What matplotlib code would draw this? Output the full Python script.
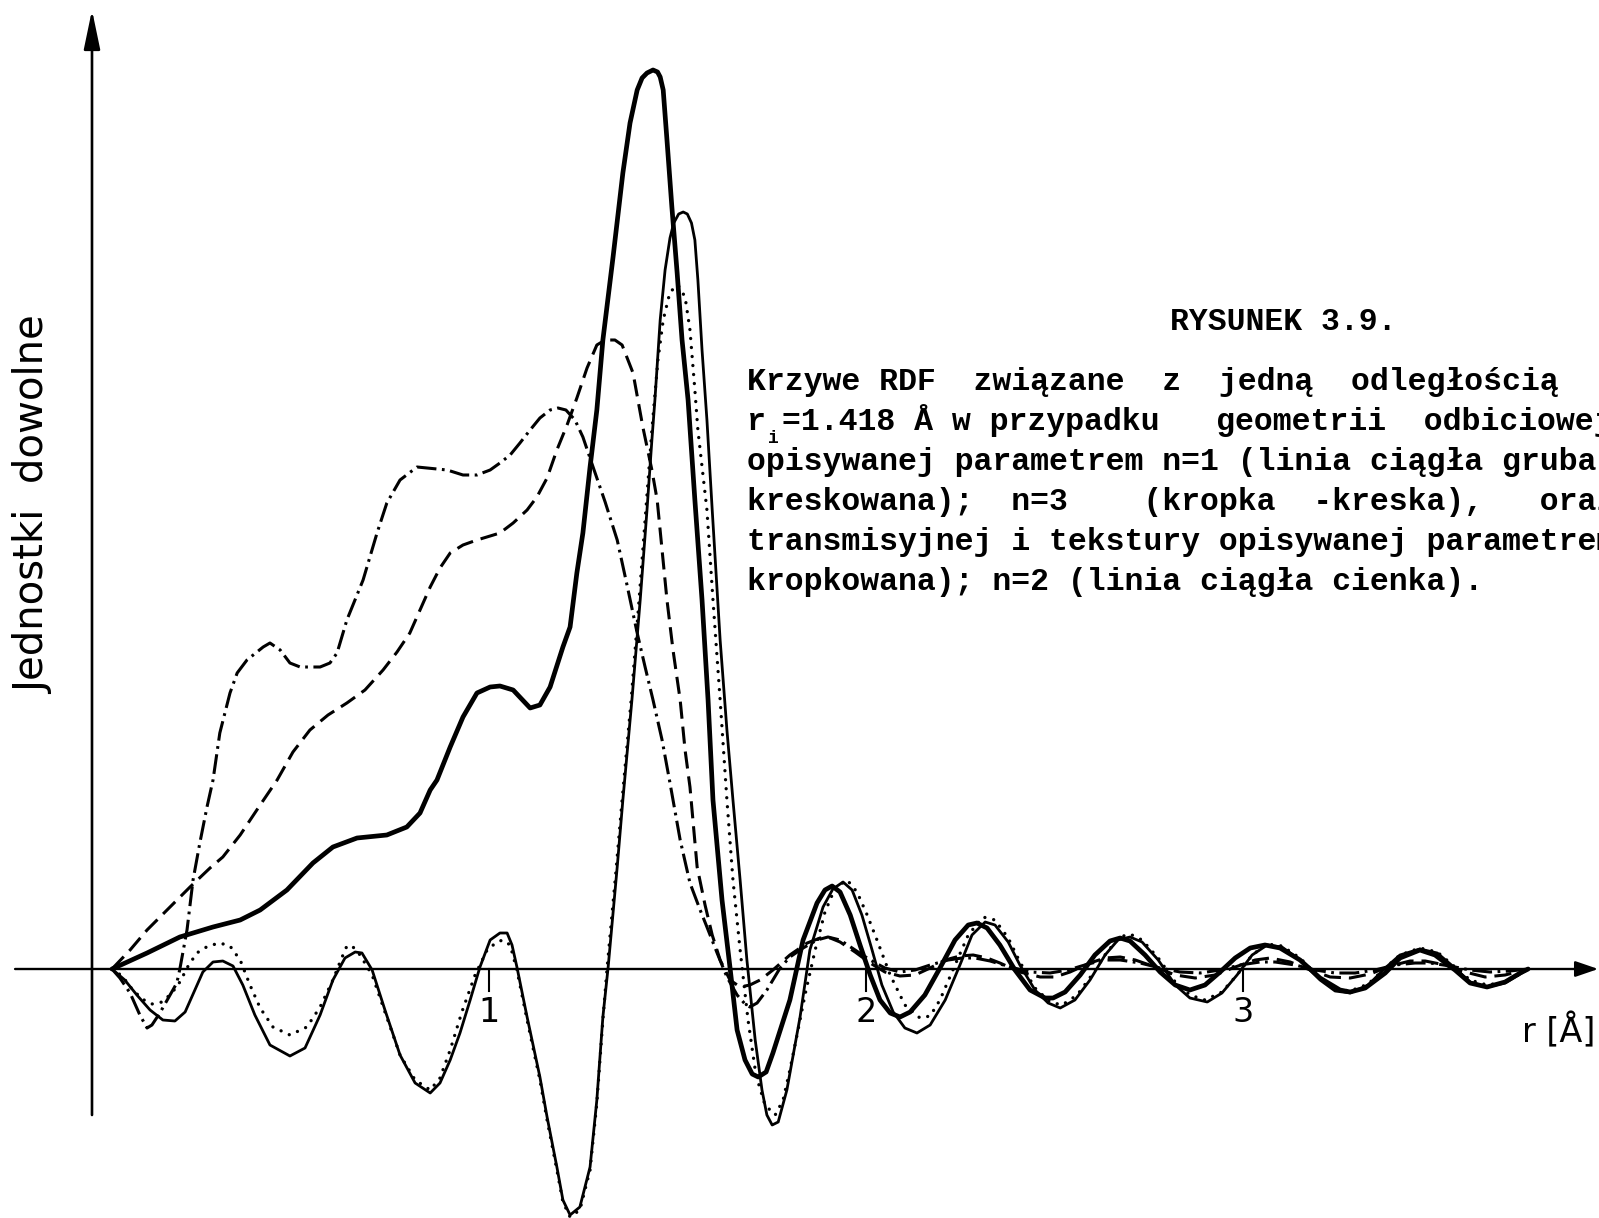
#!/usr/bin/env python
"""Rysunek 3.9: RDF curves tied to one distance r_i = 1.418 A."""

from __future__ import annotations

import matplotlib

matplotlib.use("Agg")
import matplotlib.pyplot as plt


FIG_W_PX = 1599
FIG_H_PX = 1218
DPI = 100

R_RANGE = (-0.297, 3.944)
V_RANGE = (-2.49, 9.69)

# reflection geometry, n=1 (thick solid line)
REFL_N1 = [
    (0.0, 0.0), (0.093, 0.16), (0.180, 0.32), (0.268, 0.42), (0.340, 0.49),
    (0.393, 0.59), (0.464, 0.79), (0.533, 1.06), (0.586, 1.22), (0.650, 1.31),
    (0.729, 1.34), (0.782, 1.42), (0.817, 1.56), (0.844, 1.79), (0.862, 1.89),
    (0.897, 2.22), (0.931, 2.52), (0.968, 2.76), (1.003, 2.82), (1.029, 2.83),
    (1.064, 2.79), (1.109, 2.61), (1.135, 2.64), (1.162, 2.82), (1.196, 3.22),
    (1.215, 3.42), (1.233, 3.96), (1.249, 4.36), (1.268, 5.02), (1.286, 5.59),
    (1.302, 6.29), (1.329, 7.12), (1.355, 7.96), (1.374, 8.46), (1.393, 8.79),
    (1.406, 8.91), (1.419, 8.96), (1.435, 8.99), (1.447, 8.97), (1.454, 8.92),
    (1.462, 8.79), (1.472, 8.29), (1.485, 7.62), (1.499, 6.96), (1.512, 6.29),
    (1.528, 5.69), (1.546, 4.69), (1.565, 3.69), (1.581, 2.69), (1.594, 1.69),
    (1.618, 0.69), (1.639, 0.02), (1.658, -0.61), (1.679, -0.91), (1.698, -1.05),
    (1.714, -1.08), (1.735, -1.03), (1.753, -0.84), (1.798, -0.31), (1.833, 0.29),
    (1.870, 0.66), (1.891, 0.79), (1.910, 0.83), (1.931, 0.77), (1.958, 0.54),
    (1.984, 0.24), (2.011, -0.06), (2.037, -0.31), (2.064, -0.44), (2.090, -0.48),
    (2.117, -0.43), (2.156, -0.26), (2.196, 0.01), (2.236, 0.29), (2.271, 0.44),
    (2.294, 0.46), (2.321, 0.41), (2.355, 0.24), (2.395, -0.01), (2.435, -0.21),
    (2.475, -0.29), (2.496, -0.29), (2.528, -0.23), (2.568, -0.06), (2.607, 0.14),
    (2.647, 0.28), (2.674, 0.31), (2.700, 0.28), (2.740, 0.14), (2.780, -0.03),
    (2.820, -0.16), (2.859, -0.21), (2.899, -0.16), (2.939, -0.03), (2.979, 0.11),
    (3.019, 0.21), (3.058, 0.24), (3.098, 0.21), (3.151, 0.09), (3.204, -0.09),
    (3.257, -0.21), (3.284, -0.23), (3.324, -0.19), (3.377, -0.04), (3.416, 0.11),
    (3.469, 0.19), (3.509, 0.14), (3.562, -0.01), (3.602, -0.14), (3.647, -0.18),
    (3.695, -0.13), (3.735, -0.04), (3.756, 0.0),
]

# reflection geometry, n=2 (dashed line)
REFL_N2 = [
    (0.0, 0.0), (0.048, 0.19), (0.093, 0.39), (0.146, 0.59), (0.207, 0.82),
    (0.260, 1.01), (0.294, 1.12), (0.340, 1.34), (0.393, 1.64), (0.438, 1.89),
    (0.480, 2.17), (0.525, 2.39), (0.573, 2.54), (0.623, 2.66), (0.671, 2.79),
    (0.719, 2.99), (0.756, 3.17), (0.790, 3.36), (0.817, 3.59), (0.844, 3.82),
    (0.870, 4.01), (0.897, 4.16), (0.931, 4.24), (0.968, 4.29), (1.003, 4.33),
    (1.029, 4.36), (1.064, 4.46), (1.101, 4.59), (1.127, 4.72), (1.154, 4.91),
    (1.180, 5.19), (1.207, 5.44), (1.233, 5.71), (1.260, 6.01), (1.286, 6.24),
    (1.308, 6.29), (1.334, 6.29), (1.353, 6.24), (1.382, 5.96), (1.408, 5.42),
    (1.432, 4.99), (1.446, 4.69), (1.459, 4.19), (1.472, 3.69), (1.488, 3.19),
    (1.507, 2.69), (1.520, 2.19), (1.533, 1.82), (1.552, 1.02), (1.573, 0.64),
    (1.592, 0.34), (1.613, 0.09), (1.639, -0.11), (1.666, -0.18), (1.692, -0.16),
    (1.719, -0.11), (1.753, -0.01), (1.798, 0.14), (1.844, 0.26), (1.878, 0.31),
    (1.905, 0.31), (1.931, 0.27), (1.971, 0.17), (2.011, 0.06), (2.050, -0.03),
    (2.090, -0.07), (2.130, -0.06), (2.170, 0.01), (2.210, 0.09), (2.249, 0.13),
    (2.284, 0.14), (2.321, 0.11), (2.355, 0.06), (2.408, -0.03), (2.462, -0.08),
    (2.501, -0.08), (2.541, -0.03), (2.594, 0.06), (2.634, 0.11), (2.674, 0.12),
    (2.714, 0.09), (2.767, 0.02), (2.820, -0.06), (2.873, -0.09), (2.926, -0.06),
    (2.979, 0.02), (3.032, 0.09), (3.072, 0.11), (3.125, 0.07), (3.178, -0.01),
    (3.231, -0.08), (3.284, -0.09), (3.337, -0.05), (3.390, 0.03), (3.443, 0.08),
    (3.483, 0.08), (3.536, 0.04), (3.589, -0.03), (3.642, -0.08), (3.695, -0.06),
    (3.756, 0.0),
]

# reflection geometry, n=3 (dot-dash line)
REFL_N3 = [
    (0.0, 0.0), (0.021, -0.09), (0.048, -0.24), (0.074, -0.46), (0.093, -0.59),
    (0.106, -0.56), (0.127, -0.44), (0.154, -0.26), (0.172, -0.14), (0.180, 0.0),
    (0.199, 0.39), (0.215, 0.89), (0.233, 1.26), (0.252, 1.62), (0.268, 1.89),
    (0.286, 2.36), (0.313, 2.76), (0.332, 2.96), (0.358, 3.09), (0.401, 3.22),
    (0.419, 3.26), (0.446, 3.19), (0.472, 3.06), (0.499, 3.02), (0.552, 3.02),
    (0.578, 3.06), (0.597, 3.16), (0.623, 3.49), (0.666, 3.89), (0.703, 4.36),
    (0.729, 4.66), (0.764, 4.89), (0.809, 5.02), (0.889, 4.99), (0.931, 4.94),
    (0.968, 4.94), (1.003, 4.99), (1.029, 5.06), (1.056, 5.14), (1.082, 5.26),
    (1.109, 5.39), (1.135, 5.51), (1.162, 5.59), (1.183, 5.61), (1.204, 5.59),
    (1.228, 5.49), (1.249, 5.32), (1.276, 5.02), (1.308, 4.67), (1.340, 4.29),
    (1.366, 3.84), (1.393, 3.36), (1.414, 3.02), (1.435, 2.69), (1.459, 2.29),
    (1.480, 1.86), (1.507, 1.29), (1.533, 0.86), (1.560, 0.59), (1.578, 0.42),
    (1.605, 0.16), (1.631, -0.08), (1.658, -0.26), (1.679, -0.35), (1.692, -0.38),
    (1.711, -0.34), (1.737, -0.21), (1.772, 0.01), (1.798, 0.12), (1.833, 0.21),
    (1.870, 0.29), (1.899, 0.32), (1.931, 0.29), (1.971, 0.19), (2.011, 0.09),
    (2.050, 0.01), (2.090, -0.03), (2.130, -0.01), (2.170, 0.04), (2.218, 0.09),
    (2.255, 0.11), (2.289, 0.11), (2.329, 0.08), (2.382, 0.02), (2.435, -0.03),
    (2.488, -0.04), (2.536, -0.01), (2.589, 0.05), (2.634, 0.09), (2.674, 0.09),
    (2.727, 0.06), (2.780, 0.01), (2.833, -0.03), (2.886, -0.04), (2.939, -0.01),
    (2.992, 0.04), (3.045, 0.07), (3.085, 0.07), (3.138, 0.04), (3.191, -0.01),
    (3.244, -0.04), (3.297, -0.04), (3.350, -0.01), (3.403, 0.04), (3.456, 0.06),
    (3.496, 0.06), (3.549, 0.03), (3.602, -0.01), (3.655, -0.03), (3.708, -0.02),
    (3.756, 0.0),
]

# transmission geometry with texture (dotted line)
TRANS_DOTTED = [
    (0.0, 0.0), (0.027, -0.07), (0.053, -0.20), (0.080, -0.30), (0.106, -0.35),
    (0.133, -0.33), (0.159, -0.24), (0.180, -0.13), (0.202, 0.03), (0.225, 0.16),
    (0.255, 0.23), (0.286, 0.26), (0.313, 0.23), (0.340, 0.09), (0.366, -0.16),
    (0.393, -0.39), (0.427, -0.58), (0.472, -0.66), (0.517, -0.58), (0.552, -0.38),
    (0.586, -0.11), (0.607, 0.09), (0.623, 0.23), (0.637, 0.23), (0.658, 0.14),
    (0.690, -0.06), (0.724, -0.43), (0.764, -0.86), (0.804, -1.11), (0.844, -1.21),
    (0.870, -1.09), (0.897, -0.81), (0.928, -0.43), (0.963, -0.06), (0.995, 0.19),
    (1.021, 0.27), (1.037, 0.29), (1.056, 0.24), (1.074, -0.01), (1.101, -0.51),
    (1.135, -1.11), (1.154, -1.51), (1.180, -2.01), (1.196, -2.33), (1.215, -2.48),
    (1.241, -2.41), (1.268, -2.01), (1.286, -1.34), (1.302, -0.51), (1.313, 0.0),
    (1.337, 0.99), (1.353, 1.69), (1.377, 2.69), (1.398, 3.69), (1.416, 4.59),
    (1.432, 5.39), (1.448, 6.09), (1.462, 6.49), (1.480, 6.77), (1.501, 6.84),
    (1.520, 6.72), (1.533, 6.39), (1.546, 5.79), (1.554, 5.39), (1.578, 4.59),
    (1.594, 3.69), (1.613, 2.69), (1.631, 1.69), (1.647, 0.89), (1.666, 0.19),
    (1.687, -0.51), (1.708, -1.06), (1.732, -1.36), (1.759, -1.46), (1.780, -1.31),
    (1.798, -1.01), (1.817, -0.66), (1.838, -0.26), (1.865, 0.19), (1.891, 0.57),
    (1.918, 0.81), (1.950, 0.89), (1.976, 0.77), (2.003, 0.54), (2.029, 0.29),
    (2.064, -0.06), (2.103, -0.36), (2.143, -0.49), (2.170, -0.47), (2.196, -0.31),
    (2.236, 0.04), (2.271, 0.34), (2.310, 0.52), (2.342, 0.49), (2.377, 0.31),
    (2.408, 0.07), (2.448, -0.19), (2.488, -0.33), (2.520, -0.36), (2.560, -0.26),
    (2.599, -0.06), (2.639, 0.17), (2.674, 0.32), (2.700, 0.35), (2.732, 0.29),
    (2.775, 0.11), (2.820, -0.13), (2.859, -0.26), (2.899, -0.31), (2.944, -0.23),
    (2.984, -0.06), (3.024, 0.14), (3.064, 0.25), (3.103, 0.23), (3.151, 0.11),
    (3.204, -0.09), (3.244, -0.20), (3.284, -0.22), (3.332, -0.15), (3.377, 0.01),
    (3.416, 0.14), (3.469, 0.21), (3.515, 0.17), (3.562, 0.02), (3.602, -0.11),
    (3.647, -0.16), (3.695, -0.13), (3.735, -0.05), (3.756, 0.0),
]

# transmission geometry with texture, n=2 (thin solid line)
TRANS_N2 = [
    (0.0, 0.0), (0.034, -0.11), (0.066, -0.26), (0.101, -0.41), (0.135, -0.51),
    (0.167, -0.52), (0.194, -0.43), (0.220, -0.21), (0.241, -0.03), (0.268, 0.07),
    (0.294, 0.08), (0.321, 0.03), (0.347, -0.16), (0.379, -0.46), (0.419, -0.76),
    (0.472, -0.87), (0.512, -0.79), (0.552, -0.46), (0.586, -0.11), (0.618, 0.11),
    (0.645, 0.17), (0.663, 0.16), (0.690, -0.01), (0.724, -0.41), (0.764, -0.86),
    (0.804, -1.14), (0.844, -1.24), (0.870, -1.14), (0.897, -0.91), (0.923, -0.64),
    (0.950, -0.31), (0.976, 0.02), (1.003, 0.29), (1.029, 0.36), (1.048, 0.36),
    (1.061, 0.24), (1.074, 0.02), (1.101, -0.48), (1.135, -1.08), (1.154, -1.48),
    (1.180, -1.98), (1.196, -2.31), (1.215, -2.46), (1.241, -2.38), (1.268, -1.98),
    (1.286, -1.31), (1.302, -0.48), (1.316, 0.02), (1.340, 1.02), (1.355, 1.69),
    (1.379, 2.69), (1.401, 3.69), (1.419, 4.59), (1.432, 5.29), (1.440, 5.69),
    (1.454, 6.49), (1.467, 6.99), (1.480, 7.31), (1.490, 7.46), (1.503, 7.55),
    (1.515, 7.57), (1.526, 7.55), (1.537, 7.46), (1.546, 7.29), (1.554, 6.89),
    (1.565, 6.19), (1.578, 5.49), (1.592, 4.59), (1.613, 3.29), (1.631, 2.39),
    (1.647, 1.69), (1.666, 0.89), (1.684, 0.09), (1.706, -0.71), (1.724, -1.21),
    (1.737, -1.46), (1.751, -1.56), (1.767, -1.53), (1.790, -1.21), (1.825, -0.48),
    (1.851, 0.19), (1.886, 0.62), (1.912, 0.80), (1.939, 0.87), (1.963, 0.79),
    (1.989, 0.54), (2.016, 0.19), (2.042, -0.16), (2.072, -0.43), (2.103, -0.59),
    (2.135, -0.64), (2.170, -0.56), (2.210, -0.31), (2.249, 0.04), (2.281, 0.34),
    (2.316, 0.47), (2.342, 0.44), (2.377, 0.27), (2.408, 0.04), (2.448, -0.21),
    (2.483, -0.34), (2.515, -0.39), (2.554, -0.31), (2.594, -0.11), (2.634, 0.14),
    (2.668, 0.29), (2.700, 0.32), (2.732, 0.27), (2.775, 0.09), (2.820, -0.16),
    (2.859, -0.29), (2.905, -0.33), (2.944, -0.24), (2.984, -0.06), (3.024, 0.14),
    (3.064, 0.24), (3.103, 0.22), (3.151, 0.09), (3.204, -0.11), (3.244, -0.22),
    (3.284, -0.24), (3.332, -0.16), (3.377, 0.01), (3.416, 0.14), (3.469, 0.20),
    (3.515, 0.16), (3.562, 0.01), (3.602, -0.13), (3.647, -0.18), (3.695, -0.14),
    (3.735, -0.05), (3.756, 0.0),
]

TICK_POSITIONS = [1, 2, 3]
TICK_LABELS = ["1", "2", "3"]
X_LABEL = "r [Å]"
Y_LABEL = "Jednostki  dowolne"

CAPTION_TITLE = "RYSUNEK 3.9."
CAPTION_LINE_1 = "Krzywe RDF  związane  z  jedną  odległością"
CAPTION_LINE_2 = "=1.418 Å w przypadku   geometrii  odbiciowej"
CAPTION_LINES_REST = [
    "opisywanej parametrem n=1 (linia ciągła gruba",
    "kreskowana);  n=3    (kropka  -kreska),   oraz",
    "transmisyjnej i tekstury opisywanej parametrem",
    "kropkowana); n=2 (linia ciągła cienka).",
]

CAPTION_FONT = {"family": "Liberation Mono", "fontsize": 22.7, "fontweight": "bold"}


def main() -> int:
    fig = plt.figure(figsize=(FIG_W_PX / DPI, FIG_H_PX / DPI), dpi=DPI)
    ax = fig.add_axes((0, 0, 1, 1))
    ax.set_xlim(*R_RANGE)
    ax.set_ylim(*V_RANGE)
    ax.axis("off")

    _draw_axes(ax)
    _draw_curves(ax)
    _draw_texts(fig)

    fig.savefig("out.png", dpi=DPI)
    plt.close(fig)
    return 0


def _px(x_px: float, y_px: float) -> tuple[float, float]:
    # figure fraction from pixel position of the original scan
    return x_px / FIG_W_PX, 1.0 - y_px / FIG_H_PX


def _draw_axes(ax: plt.Axes) -> None:
    y_axis_r = -0.053
    ax.annotate(
        "",
        xy=(y_axis_r, 9.59),
        xytext=(y_axis_r, -1.46),
        arrowprops=dict(
            arrowstyle="-|>,head_length=1.2,head_width=0.25",
            mutation_scale=20,
            lw=1.9,
            color="black",
            shrinkA=0,
            shrinkB=0,
        ),
    )
    ax.annotate(
        "",
        xy=(3.942, 0.0),
        xytext=(-0.257, 0.0),
        arrowprops=dict(
            arrowstyle="-|>,head_length=0.7,head_width=0.24",
            mutation_scale=20,
            lw=1.7,
            color="black",
            shrinkA=0,
            shrinkB=0,
        ),
    )
    for pos, label in zip(TICK_POSITIONS, TICK_LABELS, strict=True):
        ax.plot([pos, pos], [0.0, -0.22], color="black", lw=1.5)
        ax.text(pos, -0.43, label, ha="center", va="center", fontsize=24)
    ax.text(3.740, -0.73, X_LABEL, ha="left", va="baseline", fontsize=24)


def _draw_curves(ax: plt.Axes) -> None:
    styles = (
        (TRANS_N2, {"lw": 2.0, "ls": "-"}),
        (TRANS_DOTTED, {"lw": 2.4, "ls": (0, (0.01, 2.7)), "dash_capstyle": "round"}),
        (REFL_N3, {"lw": 2.2, "ls": (0, (6.5, 1.8, 0.9, 1.8))}),
        (REFL_N2, {"lw": 2.2, "ls": (0, (5.6, 2.6))}),
        (REFL_N1, {"lw": 3.4, "ls": "-"}),
    )
    for points, style in styles:
        r_vals = [p[0] for p in points]
        v_vals = [p[1] for p in points]
        ax.plot(
            r_vals,
            v_vals,
            color="black",
            solid_joinstyle="round",
            solid_capstyle="round",
            **style,
        )


def _draw_texts(fig: plt.Figure) -> None:
    fig.text(
        *_px(34, 505), Y_LABEL, rotation=90, ha="center", va="center", fontsize=29
    )
    fig.text(*_px(1170, 330), CAPTION_TITLE, ha="left", va="baseline", **CAPTION_FONT)
    fig.text(*_px(747, 390), CAPTION_LINE_1, ha="left", va="baseline", **CAPTION_FONT)
    # r with subscript i, then the rest of the line
    fig.text(*_px(747, 430), "r", ha="left", va="baseline", **CAPTION_FONT)
    fig.text(
        *_px(768, 443),
        "i",
        ha="left",
        va="baseline",
        family="Liberation Mono",
        fontsize=13,
        fontweight="bold",
    )
    fig.text(*_px(782, 430), CAPTION_LINE_2, ha="left", va="baseline", **CAPTION_FONT)
    for i, line in enumerate(CAPTION_LINES_REST):
        fig.text(
            *_px(747, 470 + 40 * i), line, ha="left", va="baseline", **CAPTION_FONT
        )


if __name__ == "__main__":
    raise SystemExit(main())
